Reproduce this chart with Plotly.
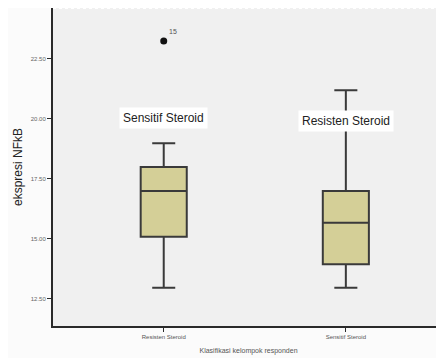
import plotly.graph_objects as go

categories = ["Resisten Steroid", "Sensitif Steroid"]
q1 = [15.07, 13.92]
median = [16.98, 15.65]
q3 = [17.98, 16.97]
lower_whisker = [12.94, 12.94]
upper_whisker = [18.96, 21.17]
outlier_cat = ["Resisten Steroid"]
outlier_val = [23.22]
outlier_label = ["15"]
box_labels = ["Sensitif Steroid", "Resisten Steroid"]
box_label_y = [20.0, 19.9]
y_ticks = [12.5, 15.0, 17.5, 20.0, 22.5]

fig = go.Figure()
fig.add_trace(go.Box(
    x=categories, q1=q1, median=median, q3=q3,
    lowerfence=lower_whisker, upperfence=upper_whisker,
    width=0.253, whiskerwidth=0.5,
    fillcolor="#d4cf97", line=dict(color="#3a3a3a", width=2),
    boxpoints=False, showlegend=False, hoverinfo="skip",
))
fig.add_trace(go.Scatter(
    x=outlier_cat, y=outlier_val, mode="markers+text",
    marker=dict(color="#111111", size=7),
    text=outlier_label, textposition="top right",
    textfont=dict(size=7, color="#555555", family="Liberation Sans"),
    showlegend=False, hoverinfo="skip",
))
for c, t, yy in zip(categories, box_labels, box_label_y):
    fig.add_annotation(x=c, y=yy, text=t, showarrow=False,
                       bgcolor="#ffffff", borderpad=3,
                       font=dict(size=12, color="#222222", family="Liberation Sans"))

fig.update_layout(
    width=436, height=350,
    margin=dict(l=45, r=0, t=0, b=32),
    paper_bgcolor="#fbfbfb", plot_bgcolor="#f0f0f0",
    font=dict(family="Liberation Sans"),
    xaxis=dict(
        type="category", range=[-0.608, 1.539], showgrid=False,
        showline=True, linecolor="#2a2a2a", linewidth=2,
        ticks="outside", ticklen=4, tickcolor="#2a2a2a",
        tickfont=dict(size=6, color="#555555"),
        title=dict(text="Klasifikasi kelompok responden", standoff=9,
                   font=dict(size=7, color="#555555")),
        zeroline=False,
    ),
    yaxis=dict(
        range=[11.35, 24.6], tickvals=y_ticks,
        ticktext=[f"{v:.2f}" for v in y_ticks],
        showgrid=False, zeroline=False,
        showline=True, linecolor="#2a2a2a", linewidth=2,
        ticks="outside", ticklen=4, tickcolor="#2a2a2a",
        tickfont=dict(size=6, color="#666666"),
        title=dict(text="ekspresi NFkB", standoff=6,
                   font=dict(size=12, color="#222222")),
    ),
)
fig.add_shape(type="line", xref="paper", yref="paper", x0=0, x1=1, y0=1, y1=1,
              line=dict(color="#ffffff", width=2, dash="dot"))
fig.write_html("out.html")
